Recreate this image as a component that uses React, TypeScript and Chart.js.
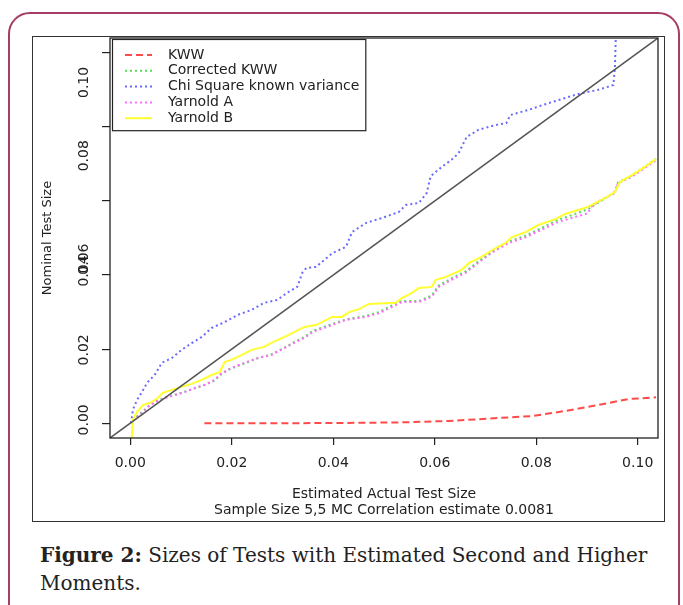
import React, { useEffect, useRef } from "react";
import { Chart, registerables } from "chart.js";

Chart.register(...registerables);

// ---- data ----
const xTickValues = [0, 0.02, 0.04, 0.06, 0.08, 0.1];
const yTickValues = [0, 0.02, 0.04, 0.06, 0.08, 0.1];
const yTickLabels = ["0.00", "0.02", "0.04", "0.06", "0.08", "0.10"];
// where the (shifted) y labels sit in the reference, in data units
const yLabelValues = [0.0009, 0.0198, 0.0411, 0.0443, 0.0722, 0.092];

const xTitle = "Estimated Actual Test Size";
const xSubtitle = "Sample Size 5,5 MC Correlation estimate 0.0081";
const yTitle = "Nominal Test Size";

const legendLabels = ["KWW", "Corrected KWW", "Chi Square known variance", "Yarnold A", "Yarnold B"];

const kwwX = [0.0146, 0.0333, 0.045, 0.0529, 0.0628, 0.0726, 0.0791, 0.0857, 0.0922, 0.0981, 0.1036];
const kwwY = [0.0, 0.0, 0.0001, 0.0002, 0.0006, 0.0014, 0.0019, 0.0033, 0.0049, 0.0065, 0.007];

const corrX = [0.0005, 0.0023, 0.0035, 0.0048, 0.0068, 0.0088, 0.0107, 0.0127, 0.0146, 0.0166, 0.018, 0.0199, 0.0225, 0.0251, 0.0278, 0.0304, 0.0323, 0.0343, 0.0359, 0.0398, 0.0425, 0.0465, 0.049, 0.0516, 0.0535, 0.0569, 0.0594, 0.0608, 0.0633, 0.0661, 0.0686, 0.0712, 0.0745, 0.0779, 0.081, 0.0843, 0.0877, 0.0902, 0.0918, 0.0935, 0.0955, 0.0961, 0.0987, 0.1014, 0.1036];
const corrY = [0.0008, 0.003, 0.0045, 0.0058, 0.0069, 0.0077, 0.0085, 0.0094, 0.0103, 0.0115, 0.0133, 0.0148, 0.0161, 0.0175, 0.0186, 0.0204, 0.0219, 0.0233, 0.0249, 0.0268, 0.028, 0.029, 0.03, 0.0318, 0.033, 0.033, 0.0345, 0.0372, 0.0391, 0.041, 0.0437, 0.0463, 0.049, 0.0506, 0.0527, 0.0549, 0.0565, 0.0578, 0.0592, 0.0606, 0.0625, 0.065, 0.0668, 0.0692, 0.0714];

const chiX = [0.0001, 0.0003, 0.0005, 0.0013, 0.0023, 0.0033, 0.0048, 0.0062, 0.0082, 0.0101, 0.0121, 0.0141, 0.016, 0.0186, 0.0211, 0.0239, 0.0264, 0.029, 0.0309, 0.0329, 0.0339, 0.0347, 0.0366, 0.0398, 0.0425, 0.0437, 0.0465, 0.0496, 0.0529, 0.0543, 0.0569, 0.0584, 0.0592, 0.0614, 0.0633, 0.0647, 0.0663, 0.0686, 0.072, 0.0741, 0.0749, 0.0785, 0.0824, 0.0883, 0.0922, 0.0952, 0.0955, 0.0957, 0.0957];
const chiY = [0.0, 0.0014, 0.0036, 0.0062, 0.0084, 0.0109, 0.013, 0.0163, 0.0176, 0.0198, 0.0216, 0.0233, 0.0257, 0.0273, 0.0292, 0.0306, 0.0325, 0.0333, 0.0352, 0.0368, 0.0406, 0.0419, 0.0422, 0.0459, 0.0476, 0.0516, 0.0541, 0.0554, 0.057, 0.0589, 0.0595, 0.0621, 0.0667, 0.0692, 0.0711, 0.0729, 0.0773, 0.0792, 0.0805, 0.081, 0.0832, 0.0846, 0.0864, 0.0889, 0.09, 0.0913, 0.0959, 0.1048, 0.13];

const yarAX = [0.0005, 0.0023, 0.0035, 0.0048, 0.0068, 0.0088, 0.0107, 0.0127, 0.0146, 0.0166, 0.018, 0.0199, 0.0225, 0.0251, 0.0278, 0.0304, 0.0323, 0.0343, 0.0359, 0.0398, 0.0425, 0.0465, 0.049, 0.0516, 0.0535, 0.0569, 0.0594, 0.0608, 0.0633, 0.0661, 0.0686, 0.0712, 0.0745, 0.0779, 0.081, 0.0843, 0.0877, 0.0902, 0.0908, 0.0928, 0.0955, 0.0961, 0.0987, 0.1014, 0.1036];
const yarAY = [0.0008, 0.0028, 0.0044, 0.0057, 0.0068, 0.0076, 0.0084, 0.0095, 0.0103, 0.0117, 0.0135, 0.0149, 0.0163, 0.0176, 0.0184, 0.0203, 0.0217, 0.023, 0.0246, 0.0265, 0.0279, 0.0287, 0.0297, 0.0314, 0.0327, 0.0327, 0.0341, 0.0368, 0.0387, 0.0406, 0.0433, 0.046, 0.0486, 0.0502, 0.0522, 0.0543, 0.0557, 0.0567, 0.0584, 0.0603, 0.0621, 0.0648, 0.0664, 0.0689, 0.071];

const yarBX = [0.0002, 0.0005, 0.0013, 0.0025, 0.0042, 0.0054, 0.0064, 0.0082, 0.0101, 0.0121, 0.0141, 0.016, 0.0176, 0.0186, 0.0199, 0.0219, 0.0239, 0.0264, 0.0278, 0.0304, 0.0323, 0.0343, 0.0366, 0.0398, 0.0417, 0.0431, 0.0451, 0.047, 0.0523, 0.0535, 0.0555, 0.0569, 0.0594, 0.0602, 0.0622, 0.0653, 0.0667, 0.0692, 0.072, 0.0739, 0.0751, 0.0779, 0.0804, 0.0838, 0.0857, 0.0902, 0.0936, 0.0955, 0.0965, 0.0995, 0.1014, 0.1036];
const yarBY = [-0.006, 0.0009, 0.003, 0.0049, 0.0057, 0.0068, 0.0082, 0.009, 0.0098, 0.0106, 0.0117, 0.013, 0.0138, 0.0165, 0.0171, 0.0184, 0.0198, 0.0206, 0.0217, 0.0233, 0.0246, 0.026, 0.0265, 0.0287, 0.0287, 0.03, 0.0308, 0.0322, 0.0325, 0.0338, 0.0352, 0.0365, 0.0368, 0.0387, 0.0395, 0.0414, 0.0432, 0.0449, 0.0473, 0.0486, 0.0502, 0.0516, 0.0535, 0.0551, 0.0565, 0.0584, 0.0608, 0.0624, 0.0651, 0.0675, 0.0692, 0.0713];

const diagX = [-0.01, 0.11];
const diagY = [-0.01, 0.11];

const axisMin = -0.004;
const axisMax = 0.104;

const pts = (xs: number[], ys: number[]) => xs.map((x, i) => ({ x, y: ys[i] }));

const SANS = '"DejaVu Sans", sans-serif';

const boxPlugin = {
  id: "plotBox",
  afterDatasetsDraw(chart: any) {
    const { ctx, chartArea } = chart;
    ctx.save();
    ctx.strokeStyle = "#222";
    ctx.lineWidth = 1.3;
    ctx.strokeRect(chartArea.left, chartArea.top, chartArea.right - chartArea.left, chartArea.bottom - chartArea.top);
    ctx.restore();
  },
};

const insetLegend = {
  id: "insetLegend",
  afterDatasetsDraw(chart: any) {
    const { ctx, chartArea } = chart;
    const items = legendLabels
      .map((l) => chart.data.datasets.find((d: any) => d.label === l))
      .filter(Boolean);
    ctx.save();
    ctx.font = `14px ${SANS}`;
    const left = chartArea.left + 2;
    const top = chartArea.top + 1;
    const rowH = 15.8;
    const firstRow = 16;
    const textOff = 56;
    const maxW = Math.max(...items.map((d: any) => ctx.measureText(d.label).width));
    const w = textOff + maxW + 6;
    const h = firstRow + rowH * (items.length - 1) + 12;
    ctx.fillStyle = "#fff";
    ctx.fillRect(left, top, w, h);
    ctx.strokeStyle = "#222";
    ctx.lineWidth = 1.2;
    ctx.strokeRect(left + 0.5, top + 0.5, w, h);
    items.forEach((d: any, i: number) => {
      const y = top + firstRow + i * rowH;
      ctx.strokeStyle = d.borderColor;
      ctx.lineWidth = 2;
      ctx.setLineDash(d.borderDash || []);
      ctx.beginPath();
      ctx.moveTo(left + 13, y);
      ctx.lineTo(left + 40, y);
      ctx.stroke();
      ctx.setLineDash([]);
      ctx.fillStyle = "#222";
      ctx.textBaseline = "middle";
      ctx.textAlign = "left";
      ctx.fillText(d.label, left + textOff, y);
    });
    ctx.restore();
  },
};

export default function App() {
  const ref = useRef<HTMLCanvasElement>(null);

  useEffect(() => {
    if (!ref.current) return;
    const common = { pointRadius: 0, borderWidth: 2, tension: 0, fill: false, borderCapStyle: "butt" as const };
    const chart = new Chart(ref.current, {
      type: "line",
      data: {
        datasets: [
          { ...common, label: legendLabels[0], data: pts(kwwX, kwwY), borderColor: "#ff4a4a", borderDash: [7, 4], order: 5 },
          { ...common, label: legendLabels[1], data: pts(corrX, corrY), borderColor: "#55dd55", borderDash: [2, 3], order: 4 },
          { ...common, label: legendLabels[2], data: pts(chiX, chiY), borderColor: "#6a6aff", borderDash: [2, 3], order: 3 },
          { ...common, label: legendLabels[3], data: pts(yarAX, yarAY), borderColor: "#ff6cff", borderDash: [2, 3], order: 2 },
          { ...common, label: legendLabels[4], data: pts(yarBX, yarBY), borderColor: "#ffff30", order: 1 },
          { ...common, label: "diagonal", data: pts(diagX, diagY), borderColor: "#555", borderWidth: 1.5, order: 0 },
        ] as any,
      },
      options: {
        responsive: false,
        animation: false,
        devicePixelRatio: 1,
        events: [],
        layout: { padding: { left: 0, top: 1, right: 6, bottom: 0 } },
        plugins: { legend: { display: false }, tooltip: { enabled: false } },
        scales: {
          x: {
            type: "linear",
            position: "bottom",
            min: axisMin,
            max: axisMax,
            afterBuildTicks: (s: any) => {
              s.ticks = xTickValues.map((v) => ({ value: v }));
            },
            afterFit: (s: any) => {
              s.height = 83;
              s.paddingLeft = 0;
              s.paddingRight = 0;
            },
            grid: { drawOnChartArea: false, drawTicks: true, tickLength: 7, color: "#222", lineWidth: 1.2 },
            border: { display: false },
            ticks: {
              autoSkip: false,
              maxRotation: 0,
              padding: 10,
              color: "#222",
              font: { family: SANS, size: 14 },
              callback: (v: any) => Number(v).toFixed(2),
            },
            title: {
              display: true,
              text: [xTitle, xSubtitle],
              color: "#222",
              font: { family: SANS, size: 14, lineHeight: 16 / 14 },
              padding: { top: 0, bottom: 3 },
            },
          },
          y: {
            type: "linear",
            position: "left",
            weight: 0,
            min: axisMin,
            max: axisMax,
            afterBuildTicks: (s: any) => {
              s.ticks = yTickValues.map((v) => ({ value: v }));
            },
            afterFit: (s: any) => {
              s.width = 8;
              s.paddingTop = 0;
              s.paddingBottom = 0;
            },
            grid: { drawOnChartArea: false, drawTicks: true, tickLength: 8, color: "#222", lineWidth: 1.2 },
            border: { display: false },
            ticks: { display: false },
          },
          yl: {
            type: "linear",
            position: "left",
            weight: 1,
            min: axisMin,
            max: axisMax,
            afterBuildTicks: (s: any) => {
              s.ticks = yLabelValues.map((v) => ({ value: v }));
            },
            afterFit: (s: any) => {
              s.width = 69;
              s.paddingTop = 0;
              s.paddingBottom = 0;
            },
            grid: { display: false, drawTicks: false },
            border: { display: false },
            ticks: {
              autoSkip: false,
              minRotation: 90,
              maxRotation: 90,
              crossAlign: "center",
              padding: 2,
              color: "#222",
              font: { family: SANS, size: 14 },
              callback: (_v: any, i: number) => yTickLabels[i],
            },
            title: {
              display: true,
              text: yTitle,
              color: "#222",
              font: { family: SANS, size: 13 },
              padding: { top: 7, bottom: 0 },
            },
          },
        } as any,
      },
      plugins: [boxPlugin, insetLegend],
    });
    return () => chart.destroy();
  }, []);

  return (
    <div style={{ position: "absolute", left: 0, top: 0, width: 683, height: 605, overflow: "hidden", background: "#fff" }}>
      <div
        style={{
          position: "absolute",
          left: 8,
          top: 12,
          width: 672,
          height: 660,
          border: "2px solid #a63d66",
          borderRadius: 22,
          boxSizing: "border-box",
        }}
      />
      <div
        style={{
          position: "absolute",
          left: 32,
          top: 36,
          width: 633,
          height: 486,
          border: "1px solid #333",
          boxSizing: "border-box",
          background: "#fff",
        }}
      >
        <canvas ref={ref} width={631} height={484} style={{ display: "block", width: 631, height: 484 }} />
      </div>
      <div
        style={{
          position: "absolute",
          left: 40,
          top: 541,
          fontFamily: '"DejaVu Serif", serif',
          fontSize: 20,
          lineHeight: "28px",
          color: "#222",
          whiteSpace: "nowrap",
        }}
      >
        <b>Figure 2:</b> Sizes of Tests with Estimated Second and Higher
        <br />
        Moments.
      </div>
    </div>
  );
}
